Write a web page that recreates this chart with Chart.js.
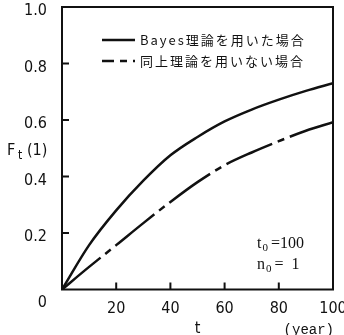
<!DOCTYPE html>
<html>
<head>
<meta charset="utf-8">
<script src="https://cdn.jsdelivr.net/npm/chart.js@4.4.0/dist/chart.umd.min.js"></script>
<style>
  html, body { margin: 0; padding: 0; background: #fff; }
  #wrap { position: relative; width: 344px; height: 335px; }
</style>
</head>
<body>
<div id="wrap"><canvas id="myChart"></canvas></div>
<script>
// t (year)
const years = [0, 10, 20, 30, 40, 50, 60, 70, 80, 90, 100];
// F_t(1)
const withBayes = [0, 0.157, 0.28, 0.385, 0.475, 0.54, 0.595, 0.637, 0.672, 0.703, 0.73];
const withoutBayes = [0, 0.08, 0.157, 0.235, 0.31, 0.38, 0.44, 0.485, 0.525, 0.562, 0.592];
const seriesNames = ['Bayes理論を用いた場合', '同上理論を用いない場合'];
const xTicks = [0, 20, 40, 60, 80, 100];
const yTicks = [0, 0.2, 0.4, 0.6, 0.8, 1.0];

const ink = '#111';
const numFont = "'DejaVu Sans Condensed', 'DejaVu Sans', sans-serif";

function toPoints(vals) {
  return years.map((t, i) => ({x: t, y: vals[i]}));
}

// box, inward ticks, legend and the small texts
const decorations = {
  id: 'decorations',
  afterDraw(chart) {
    const {ctx, chartArea: a, scales: {x, y}} = chart;
    ctx.save();
    ctx.strokeStyle = ink;
    ctx.lineWidth = 2;
    ctx.strokeRect(a.left, a.top, a.right - a.left, a.bottom - a.top);

    ctx.beginPath();
    xTicks.forEach(v => {
      if (v <= 0 || v >= 100) return;
      const px = x.getPixelForValue(v);
      ctx.moveTo(px, a.bottom);
      ctx.lineTo(px, a.bottom - 7);
    });
    yTicks.forEach(v => {
      if (v <= 0 || v >= 1) return;
      const py = y.getPixelForValue(v);
      ctx.moveTo(a.left, py);
      ctx.lineTo(a.left + 7, py);
    });
    ctx.stroke();

    // legend
    chart.data.datasets.forEach((ds, i) => {
      const ly = 40 + i * 21;
      ctx.save();
      ctx.lineWidth = 2.5;
      ctx.setLineDash(ds.borderDash || []);
      ctx.lineDashOffset = 38;
      ctx.beginPath();
      ctx.moveTo(102, ly);
      ctx.lineTo(135, ly);
      ctx.stroke();
      ctx.restore();
      ctx.fillStyle = ink;
      ctx.font = "13px 'Noto Sans CJK JP'";
      ctx.letterSpacing = '2px';
      ctx.textBaseline = 'middle';
      ctx.textAlign = 'left';
      ctx.fillText(ds.label, 140, ly);
      ctx.letterSpacing = '0px';
    });

    // y axis title F_t(1)
    ctx.fillStyle = ink;
    ctx.textBaseline = 'alphabetic';
    ctx.font = '16px ' + numFont;
    ctx.fillText('F', 7, 155);
    ctx.font = '12px ' + numFont;
    ctx.fillText('t', 18, 159);
    ctx.font = '16px ' + numFont;
    ctx.fillText('(1)', 27, 155);

    // (year)
    ctx.font = "14px 'Liberation Mono', monospace";
    ctx.textAlign = 'right';
    ctx.fillText('(year)', 334, 334);

    // parameters
    ctx.textAlign = 'left';
    const serif = "'Liberation Serif', serif";
    [['t', '=100', 248], ['n', '=\u00a0\u00a01', 269]].forEach(([s, rest, by]) => {
      ctx.font = '16px ' + serif;
      ctx.fillText(s, 257, by);
      let w = ctx.measureText(s).width;
      ctx.font = '11px ' + serif;
      ctx.fillText('0', 258 + w, by + 3);
      w += ctx.measureText('0').width + 3;
      ctx.font = '16px ' + serif;
      ctx.fillText(rest, 258 + w, by);
    });
    ctx.restore();
  }
};

const ctx = document.getElementById('myChart').getContext('2d');
new Chart(ctx, {
  type: 'line',
  data: {
    datasets: [
      {
        label: seriesNames[0],
        data: toPoints(withBayes),
        borderColor: ink,
        borderWidth: 2.5,
        pointRadius: 0,
        cubicInterpolationMode: 'monotone'
      },
      {
        label: seriesNames[1],
        data: toPoints(withoutBayes),
        borderColor: ink,
        borderWidth: 2.5,
        borderDash: [50, 6, 7, 6],
        pointRadius: 0,
        cubicInterpolationMode: 'monotone'
      }
    ]
  },
  options: {
    responsive: true,
    maintainAspectRatio: false,
    animation: false,
    layout: {padding: {left: 0, right: 11, top: 7, bottom: 0}},
    plugins: {legend: {display: false}, tooltip: {enabled: false}},
    scales: {
      x: {
        type: 'linear',
        min: 0,
        max: 100,
        afterBuildTicks: s => { s.ticks = xTicks.map(v => ({value: v})); },
        afterFit: s => { s.height = 45.5; s.paddingLeft = 0; s.paddingRight = 0; },
        grid: {display: false},
        border: {display: false},
        ticks: {
          color: ink,
          padding: 2,
          maxRotation: 0,
          font: {family: numFont, size: 16},
          callback: v => v === 0 ? '' : v
        },
        title: {
          display: true,
          text: 't',
          color: ink,
          padding: {top: 0, bottom: -3},
          font: {family: numFont, size: 16}
        }
      },
      y: {
        min: 0,
        max: 1,
        afterBuildTicks: s => { s.ticks = yTicks.map(v => ({value: v})); },
        afterFit: s => { s.width = 62; s.paddingTop = 0; s.paddingBottom = 0; },
        grid: {display: false},
        border: {display: false},
        ticks: {
          color: ink,
          padding: 7,
          labelOffset: 4,
          font: {family: numFont, size: 16},
          // the zero sits lower, below the corner
          callback: v => v === 0 ? ['', '0'] : v.toFixed(1)
        }
      }
    }
  },
  plugins: [decorations]
});
</script>
</body>
</html>
